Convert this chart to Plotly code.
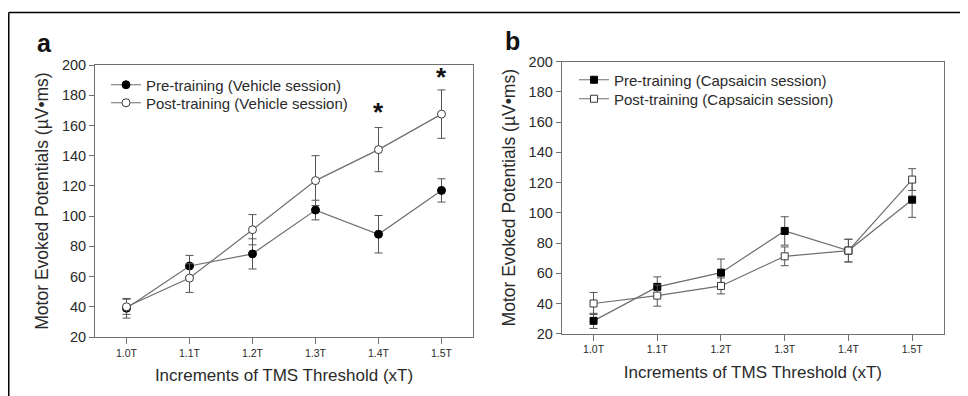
import plotly.graph_objects as go

categories = ["1.0T", "1.1T", "1.2T", "1.3T", "1.4T", "1.5T"]

veh_pre = [39, 67, 75, 104, 88, 117]
veh_pre_err = [6.5, 7, 10, 6.5, 12.4, 7.7]
veh_post = [40, 59, 91, 123.5, 144, 167.5]
veh_post_err = [5, 9.5, 10, 16.5, 14.6, 16]

cap_pre = [28.5, 51, 60.4, 88, 75, 108.7]
cap_pre_err = [5, 6.6, 9, 9.4, 7.5, 11.7]
cap_post = [40, 45.2, 51.6, 71.2, 75, 122]
cap_post_err = [7.3, 7, 5.3, 6.2, 7.5, 7.2]

star_cats = ["1.4T", "1.5T"]
star_y = [169, 192]

W, H = 968, 396
OFF = 8  # page body margin shift
FONT = "Liberation Sans, Arial, sans-serif"
LINE = "#6e6e6e"
AX = "#707070"
TXT = "#2a2a2a"


def px(x):
    return (x - OFF) / W


def py(y):
    return 1 - (y - OFF) / H


fig = go.Figure()


def add_series(name, y, err, symbol, filled, xa, ya, legend):
    fig.add_trace(go.Scatter(
        x=categories, y=y, name=name, mode="lines+markers",
        xaxis=xa, yaxis=ya, legend=legend,
        line=dict(color=LINE, width=1.2),
        marker=dict(symbol=symbol, size=8 if "circle" in symbol else 7,
                    color="#000000" if filled else "#ffffff",
                    line=dict(color="#000000" if filled else "#3a3a3a", width=1)),
        error_y=dict(type="data", array=err, visible=True, color="#555555",
                     thickness=1, width=4),
    ))


add_series("Pre-training (Vehicle session)", veh_pre, veh_pre_err, "circle", True, "x", "y", "legend")
add_series("Post-training (Vehicle session)", veh_post, veh_post_err, "circle", False, "x", "y", "legend2")
add_series("Pre-training (Capsaicin session)", cap_pre, cap_pre_err, "square", True, "x2", "y2", "legend3")
add_series("Post-training (Capsaicin session)", cap_post, cap_post_err, "square", False, "x2", "y2", "legend4")

dom_a_x = [px(95), px(473)]
dom_a_y = [py(337), py(65)]
dom_b_x = [px(561.7), px(944)]
dom_b_y = [py(333.7), py(61.7)]

xcommon = dict(type="category", range=[-0.5, 5.5], showline=True, linecolor=AX, linewidth=1,
               mirror=True, ticks="outside", ticklen=6, tickcolor=AX, showgrid=False, zeroline=False,
               automargin=False,
               tickfont=dict(size=10.5, color=TXT, family=FONT),
               title=dict(text="Increments of TMS Threshold (xT)", font=dict(size=17, color=TXT, family=FONT),
                          standoff=11))
ycommon = dict(range=[20, 200], dtick=20, showline=True, linecolor=AX, linewidth=1, mirror=True,
               ticks="outside", ticklen=5, tickcolor=AX, showgrid=False, zeroline=False,
               automargin=False,
               tickfont=dict(size=14.5, color=TXT, family=FONT),
               title=dict(text="Motor Evoked Potentials (µV•ms)", font=dict(size=17.5, color=TXT, family=FONT),
                          standoff=8))


def leg(x, y):
    return dict(x=px(x), y=py(y), xanchor="left", yanchor="middle", bgcolor="rgba(0,0,0,0)",
                font=dict(size=15, color=TXT, family=FONT), itemwidth=30)


fig.update_layout(
    width=W, height=H, margin=dict(l=0, r=0, t=0, b=0, autoexpand=False),
    paper_bgcolor="white", plot_bgcolor="white",
    font=dict(family=FONT, color=TXT),
    xaxis=dict(domain=dom_a_x, anchor="y", **xcommon),
    yaxis=dict(domain=dom_a_y, anchor="x", **ycommon),
    xaxis2=dict(domain=dom_b_x, anchor="y2", **xcommon),
    yaxis2=dict(domain=dom_b_y, anchor="x2", **ycommon),
    legend=leg(106, 85),
    legend2=leg(106, 103),
    legend3=leg(574, 80),
    legend4=leg(574, 99),
    showlegend=True,
)

for c, yv in zip(star_cats, star_y):
    fig.add_annotation(x=c, y=yv, xref="x", yref="y", text="<b>*</b>", showarrow=False,
                       font=dict(size=26, color="#111111", family=FONT))

fig.add_annotation(x=px(35), y=py(43), xref="paper", yref="paper", text="<b>a</b>",
                   showarrow=False, xanchor="left", yanchor="middle",
                   font=dict(size=25, color="#111111", family=FONT))
fig.add_annotation(x=px(503), y=py(41), xref="paper", yref="paper", text="<b>b</b>",
                   showarrow=False, xanchor="left", yanchor="middle",
                   font=dict(size=25, color="#111111", family=FONT))

# outer frame (top and left edges visible)
fig.add_shape(type="line", xref="paper", yref="paper", x0=px(8.75), x1=1, y0=py(12.5), y1=py(12.5),
              line=dict(color="#000000", width=1.5))
fig.add_shape(type="line", xref="paper", yref="paper", x0=px(8.75), x1=px(8.75), y0=0, y1=py(12.5),
              line=dict(color="#000000", width=1.5))

fig.write_html("out.html")
